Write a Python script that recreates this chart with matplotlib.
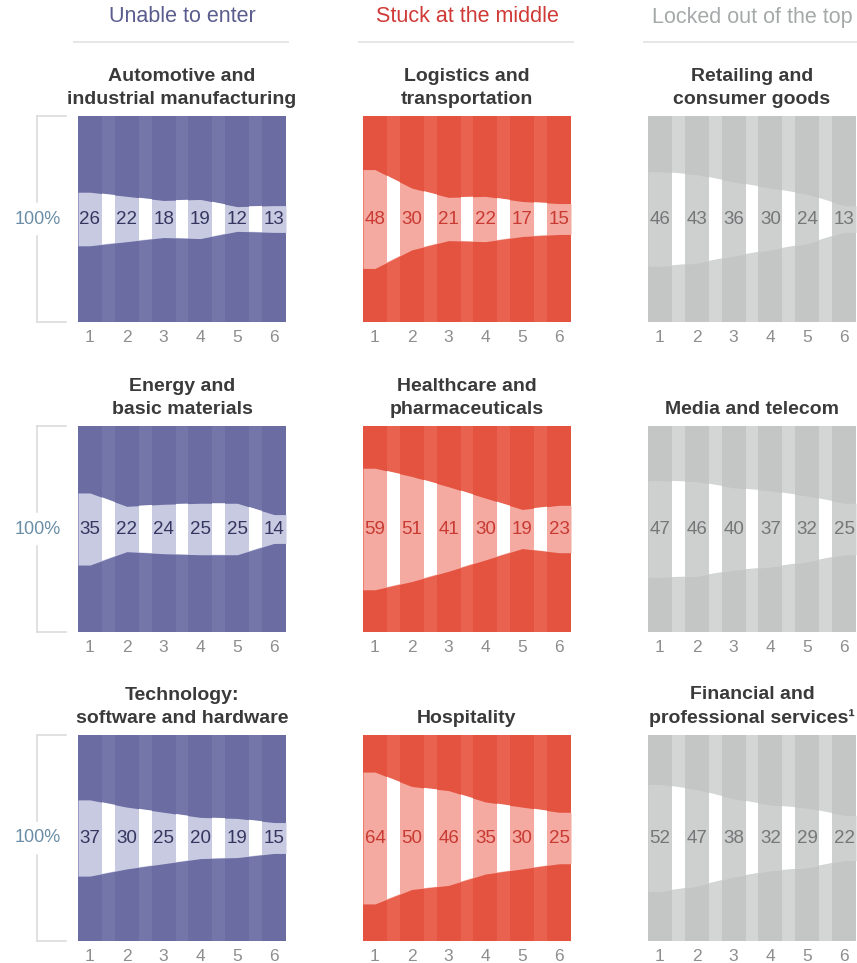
import numpy as np
import matplotlib
matplotlib.use("Agg")
import matplotlib.pyplot as plt
from matplotlib.lines import Line2D

plt.rcParams['font.family'] = ['Liberation Sans', 'DejaVu Sans']

# ---------------- data ----------------
groups = ["Unable to enter", "Stuck at the middle", "Locked out of the top"]
steps = [1, 2, 3, 4, 5, 6]
step_labels = ["1", "2", "3", "4", "5", "6"]

titles = [
    ["Automotive and\nindustrial manufacturing", "Logistics and\ntransportation", "Retailing and\nconsumer goods"],
    ["Energy and\nbasic materials", "Healthcare and\npharmaceuticals", "Media and telecom"],
    ["Technology:\nsoftware and hardware", "Hospitality", "Financial and\nprofessional services¹"],
]

automotive = [26, 22, 18, 19, 12, 13]
logistics = [48, 30, 21, 22, 17, 15]
retailing = [46, 43, 36, 30, 24, 13]
energy = [35, 22, 24, 25, 25, 14]
healthcare = [59, 51, 41, 30, 19, 23]
media = [47, 46, 40, 37, 32, 25]
technology = [37, 30, 25, 20, 19, 15]
hospitality = [64, 50, 46, 35, 30, 25]
financial = [52, 47, 38, 32, 29, 22]

values = [
    [automotive, logistics, retailing],
    [energy, healthcare, media],
    [technology, hospitality, financial],
]

# ---------------- styles ----------------
palettes = [
    dict(bar="#6a6ca2", gap="#7476aa", light="#c8cae2", text="#34365f", head="#5a5d8e"),
    dict(bar="#e4533f", gap="#e9624f", light="#f4aaa0", text="#c83a33", head="#cf3a36"),
    dict(bar="#c3c6c5", gap="#d3d6d5", light="#cdd0cf", text="#747777", head="#a5a9a9"),
]

W, H = 857, 963
fig = plt.figure(figsize=(W / 100, H / 100), dpi=100)

lefts = [78, 363, 648]
tops = [116, 426, 735]
pw, ph = 208, 206
bw = 0.65


def add_ax(x0, y0, w, h):
    return fig.add_axes([x0 / W, 1 - (y0 + h) / H, w / W, h / H])


for r in range(3):
    for c in range(3):
        pal = palettes[c]
        vals = np.array(values[r][c], dtype=float)
        ax = add_ax(lefts[c], tops[r], pw, ph)
        x = np.array(steps, dtype=float)
        x0, x1 = x[0] - bw / 2, x[-1] + bw / 2
        ax.set_xlim(x0, x1)
        ax.set_ylim(0, 100)

        # background stripes
        ax.bar(x, 100, width=bw, bottom=0, color=pal["bar"], zorder=1, linewidth=0)
        gx = (x[:-1] + x[1:]) / 2
        ax.bar(gx, 100, width=1 - bw, bottom=0, color=pal["gap"], zorder=1, linewidth=0)

        # middle band
        xs = np.concatenate([[x0], x, [x1]])
        up = 50 + np.concatenate([[vals[0]], vals, [vals[-1]]]) / 2
        lo = 50 - np.concatenate([[vals[0]], vals, [vals[-1]]]) / 2
        band = ax.fill_between(xs, lo, up, color=pal["light"], linewidth=0, zorder=2)
        band_path = band.get_paths()[0]

        whites = ax.bar(gx, 100, width=1 - bw, bottom=0, color="white", zorder=3, linewidth=0)
        for p in whites:
            p.set_clip_path(band_path, ax.transData)

        for xi, v in zip(x, vals):
            ax.text(xi, 50, f"{int(v)}", ha="center", va="center", fontsize=13.5,
                    color=pal["text"], zorder=5)

        ax.set_xticks(x)
        ax.set_xticklabels(step_labels)
        ax.tick_params(axis="x", length=0, pad=6, labelsize=12.5, labelcolor="#8e8e8e")
        ax.set_yticks([])
        for s in ax.spines.values():
            s.set_visible(False)

        ax.annotate(titles[r][c], xy=(0.5, 1), xycoords="axes fraction",
                    xytext=(0, 6), textcoords="offset points", ha="center", va="bottom",
                    fontsize=14, fontweight="bold", color="#3a3a3a", linespacing=1.42,
                    annotation_clip=False)

    # left bracket with 100%
    top, bot = tops[r], tops[r] + ph
    mid = (top + bot) / 2
    lc = "#dcdcdc"
    def fl(xa, ya):
        fig.add_artist(Line2D([v / W for v in xa], [1 - v / H for v in ya],
                              color=lc, lw=1.2, transform=fig.transFigure))
    fl([37, 37], [top, mid - 17])
    fl([37, 37], [mid + 17, bot])
    fl([37, 66], [top, top])
    fl([37, 66], [bot, bot])
    fig.text(38 / W, 1 - mid / H, "100%", ha="center", va="center", fontsize=13,
             color="#6a8da6")

# column headers
for c in range(3):
    cx = lefts[c] + pw / 2
    fig.text(cx / W, 1 - 17 / H, groups[c], ha="center", va="center", fontsize=15.5,
             color=palettes[c]["head"])
    fig.add_artist(Line2D([(lefts[c] - 4) / W, (lefts[c] + pw + 2) / W], [1 - 42 / H, 1 - 42 / H],
                          color="#e4e4e4", lw=1.3, transform=fig.transFigure))

fig.savefig("out.png", dpi=100)
